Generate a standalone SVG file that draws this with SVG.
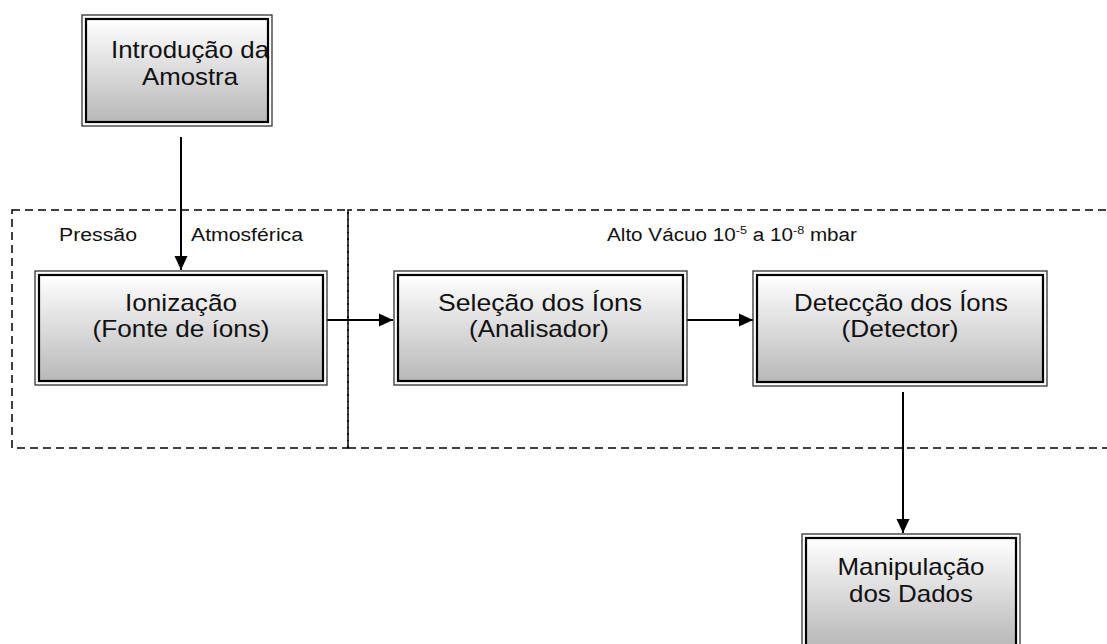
<svg xmlns="http://www.w3.org/2000/svg" width="1107" height="644" viewBox="0 0 1107 644">
<defs>
<linearGradient id="g" x1="0" y1="0" x2="0" y2="1">
<stop offset="0" stop-color="#ffffff"/>
<stop offset="1" stop-color="#b8b8b8"/>
</linearGradient>
<marker id="ah" markerWidth="14" markerHeight="14" refX="14" refY="7" orient="auto" markerUnits="userSpaceOnUse">
<path d="M0,0.5 L14,7 L0,13.5 Z" fill="#000"/>
</marker>
</defs>
<style>
.outer{fill:none;stroke:#222;stroke-width:1.2}
.inner{fill:url(#g);stroke:#000;stroke-width:2.2}
.t{font-family:"Liberation Sans",Arial,sans-serif;font-size:24px;fill:#111;text-anchor:middle}
.s{font-family:"Liberation Sans",Arial,sans-serif;font-size:18px;fill:#111}
.sup{font-size:11px}
.dash{fill:none;stroke:#000;stroke-width:1.5;stroke-dasharray:8,5}
.c{stroke:#000;stroke-width:2;fill:none;marker-end:url(#ah)}
</style>
<g id="regions">
<rect class="dash" x="12" y="210" width="336" height="238"/>
<path class="dash" d="M348,448 L348,210 L1107,210 M348,448 L1107,448"/>
<text class="s" x="59" y="241" textLength="78" lengthAdjust="spacingAndGlyphs">Pressão</text>
<text class="s" x="191" y="241" textLength="112" lengthAdjust="spacingAndGlyphs">Atmosférica</text>
<text class="s" x="607" y="241" textLength="250" lengthAdjust="spacingAndGlyphs">Alto Vácuo 10<tspan class="sup" dy="-7">-5</tspan><tspan dy="7"> a 10</tspan><tspan class="sup" dy="-7">-8</tspan><tspan dy="7"> mbar</tspan></text>
</g>
<g id="connectors">
<line class="c" x1="181" y1="137" x2="181" y2="270"/>
<line class="c" x1="327" y1="320" x2="393" y2="320"/>
<line class="c" x1="687" y1="320" x2="753" y2="320"/>
<line class="c" x1="903" y1="392" x2="903" y2="533"/>
</g>
<g id="n-introducao">
<rect class="outer" x="82" y="15" width="190" height="111"/>
<rect class="inner" x="86" y="19" width="182" height="103"/>
<text class="t" x="190" y="58" textLength="158" lengthAdjust="spacingAndGlyphs">Introdução da</text>
<text class="t" x="190" y="85" textLength="96" lengthAdjust="spacingAndGlyphs">Amostra</text>
</g>
<g id="n-ionizacao">
<rect class="outer" x="35" y="271" width="292" height="114"/>
<rect class="inner" x="39" y="275" width="284" height="106"/>
<text class="t" x="181" y="311" textLength="112" lengthAdjust="spacingAndGlyphs">Ionização</text>
<text class="t" x="181" y="337" textLength="177" lengthAdjust="spacingAndGlyphs">(Fonte de íons)</text>
</g>
<g id="n-selecao">
<rect class="outer" x="394" y="271" width="293" height="114"/>
<rect class="inner" x="398" y="275" width="285" height="106"/>
<text class="t" x="540" y="311" textLength="204" lengthAdjust="spacingAndGlyphs">Seleção dos Íons</text>
<text class="t" x="539" y="337" textLength="140" lengthAdjust="spacingAndGlyphs">(Analisador)</text>
</g>
<g id="n-deteccao">
<rect class="outer" x="753" y="271" width="294" height="115"/>
<rect class="inner" x="757" y="275" width="286" height="107"/>
<text class="t" x="901" y="311" textLength="214" lengthAdjust="spacingAndGlyphs">Detecção dos Íons</text>
<text class="t" x="900" y="337" textLength="117" lengthAdjust="spacingAndGlyphs">(Detector)</text>
</g>
<g id="n-manipulacao">
<rect class="outer" x="802" y="534" width="218" height="116"/>
<rect class="inner" x="806" y="538" width="210" height="108"/>
<text class="t" x="911" y="575" textLength="147" lengthAdjust="spacingAndGlyphs">Manipulação</text>
<text class="t" x="911" y="602" textLength="124" lengthAdjust="spacingAndGlyphs">dos Dados</text>
</g>
</svg>
